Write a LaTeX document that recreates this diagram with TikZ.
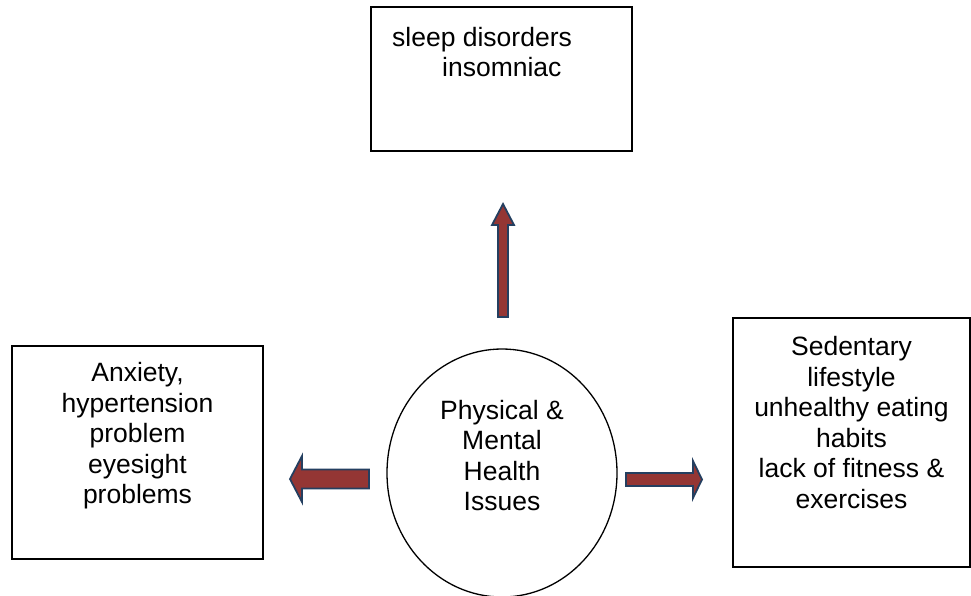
\documentclass[tikz,border=0pt]{standalone}
\usepackage{fontspec}
\setmainfont{Liberation Sans}
\usepackage{xcolor}
\usepackage{tikz}
\usetikzlibrary{shapes.geometric}
\definecolor{arrowred}{HTML}{943634}
\definecolor{arrowblue}{HTML}{243F60}

\begin{document}
\begin{tikzpicture}[x=1pt,y=1pt,
    box/.style={draw, line width=1.5pt, rectangle, inner sep=0pt},
    txt/.style={align=center, inner sep=0pt, font=\fontsize{26.5}{30.5}\selectfont},
    fatarrow/.style={fill=arrowred, draw=arrowblue, line width=1.8pt, line join=miter}]
   \useasboundingbox (0,0) rectangle (971,595);
   \node[box, minimum width=261, minimum height=144] (sleep) at (501.5,516) {};
   \node[box, minimum width=251, minimum height=213] (anx) at (137.5,142.5) {};
   \node[box, minimum width=237, minimum height=249] (sed) at (851.5,152.5) {};
   \node[draw, line width=1.3pt, ellipse, minimum width=230, minimum height=248] (health) at (502,122) {};
   \node[txt, align=left, anchor=north west] (sleeptxt) at (392,568) {sleep disorders\\\hspace*{50pt}insomniac};
   \node[txt, anchor=north] (anxtxt) at ([yshift=-17pt]anx.north) {Anxiety,\\hypertension\\problem\\eyesight\\problems};
   \node[txt, anchor=north] (sedtxt) at ([yshift=-19pt]sed.north) {Sedentary\\lifestyle\\unhealthy eating\\habits\\lack of fitness \&\\exercises};
   \node[txt, anchor=north] (healthtxt) at (502,195) {Physical \&\\Mental\\Health\\Issues};
   % block arrows
   \draw[fatarrow] (498,278) -- (498,370) -- (492,370) -- (503,391) -- (514,370) -- (508,370) -- (508,278) -- cycle;
   \draw[fatarrow] (626,109) -- (693,109) -- (693,97) -- (702,115.5) -- (693,134) -- (693,122) -- (626,122) -- cycle;
   \draw[fatarrow] (369,106.5) -- (302,106.5) -- (302,93) -- (290,116) -- (302,139) -- (302,125.5) -- (369,125.5) -- cycle;
\end{tikzpicture}
\end{document}
